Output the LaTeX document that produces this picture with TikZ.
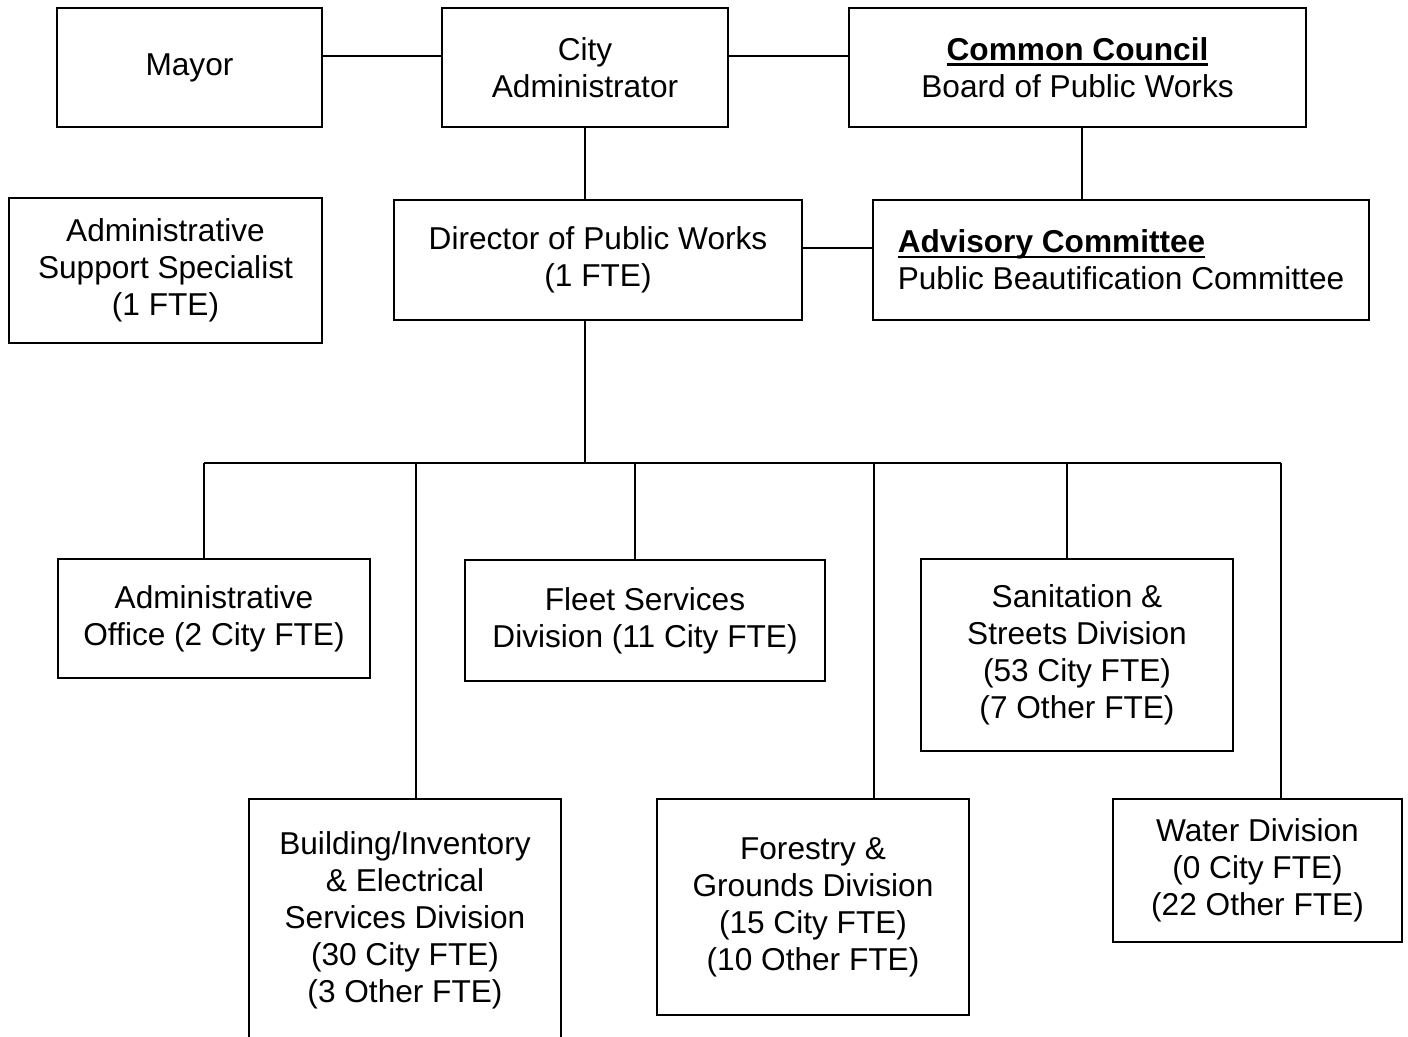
\documentclass[tikz,border=0pt]{standalone}
\usepackage{fontspec}
\setmainfont{Liberation Sans}
\newcommand{\boldul}[1]{\setbox0\hbox{\textbf{#1}}\rlap{\raisebox{-3.2pt}{\rule{\wd0}{1.5pt}}}\box0}
\begin{document}
\begin{tikzpicture}[x=0.02cm,y=-0.02cm,
    orgbox/.style={draw,line width=1.3pt,inner sep=0pt,align=center,font=\fontsize{18}{21}\selectfont},
    orgline/.style={line width=1.3pt}]
    \useasboundingbox (0,0) rectangle (1408,1036);%

    % Top row
    \node [orgbox,minimum width=5.30cm,minimum height=2.38cm] (mayor) at (189.5,67.5) {\raisebox{-2pt}{Mayor}};%
    \node [orgbox,minimum width=5.72cm,minimum height=2.38cm] (cityadm) at (585,67.5) {City\\Administrator};%
    \node [orgbox,minimum width=9.14cm,minimum height=2.38cm] (council) at (1077.5,67.5) {\boldul{Common Council}\\Board of Public Works};%

    % Second row
    \node [orgbox,minimum width=6.26cm,minimum height=2.90cm] (support) at (165.5,270.5) {Administrative\\Support Specialist\\(1 FTE)};%
    \node [orgbox,minimum width=8.16cm,minimum height=2.40cm] (director) at (598,260) {Director of Public Works\\(1 FTE)};%
    \node [orgbox,align=left,minimum width=9.92cm,minimum height=2.40cm] (advisory) at (1121,260) {\boldul{Advisory Committee}\\Public Beautification Committee};%

    % Divisions
    \node [orgbox,minimum width=6.24cm,minimum height=2.38cm] (office) at (214,618.5) {Administrative\\Office (2 City FTE)};%
    \node [orgbox,minimum width=7.20cm,minimum height=2.42cm] (fleet) at (645,620.5) {Fleet Services\\Division (11 City FTE)};%
    \node [orgbox,minimum width=6.24cm,minimum height=3.84cm] (sanitation) at (1077,655) {Sanitation \&\\Streets Division\\(53 City FTE)\\(7 Other FTE)};%
    \node [orgbox,minimum width=6.24cm,minimum height=4.84cm] (building) at (405,920) {Building/Inventory\\\& Electrical\\Services Division\\(30 City FTE)\\(3 Other FTE)};%
    \node [orgbox,minimum width=6.24cm,minimum height=4.32cm] (forestry) at (813,907) {Forestry \&\\Grounds Division\\(15 City FTE)\\(10 Other FTE)};%
    \node [orgbox,minimum width=5.78cm,minimum height=2.86cm] (water) at (1257.5,870.5) {Water Division\\(0 City FTE)\\(22 Other FTE)};%

    % Links between the top boxes
    \draw [orgline] ([yshift=0.23cm]mayor.east) -- ([yshift=0.23cm]cityadm.west);%
    \draw [orgline] ([yshift=0.23cm]cityadm.east) -- ([yshift=0.23cm]council.west);%
    \draw [orgline] (cityadm.south) -- (cityadm.south |- director.north);%
    \draw [orgline] ([xshift=0.09cm]council.south) -- ([xshift=0.09cm]council.south |- advisory.north);%
    \draw [orgline] ([yshift=0.24cm]director.east) -- ([yshift=0.24cm]advisory.west);%

    % Bus to the divisions
    \coordinate (bus) at (585,463);%
    \coordinate (b1) at (204,463);%
    \coordinate (b2) at (416,463);%
    \coordinate (b3) at (635,463);%
    \coordinate (b4) at (874,463);%
    \coordinate (b5) at (1067,463);%
    \coordinate (b6) at (1281,463);%
    \draw [orgline] (bus |- director.south) -- (bus);%
    \draw [orgline] (b1) -- (b6);%
    \draw [orgline] (b1) -- (b1 |- office.north);%
    \draw [orgline] (b2) -- (b2 |- building.north);%
    \draw [orgline] (b3) -- (b3 |- fleet.north);%
    \draw [orgline] (b4) -- (b4 |- forestry.north);%
    \draw [orgline] (b5) -- (b5 |- sanitation.north);%
    \draw [orgline] (b6) -- (b6 |- water.north);%
\end{tikzpicture}
\end{document}
